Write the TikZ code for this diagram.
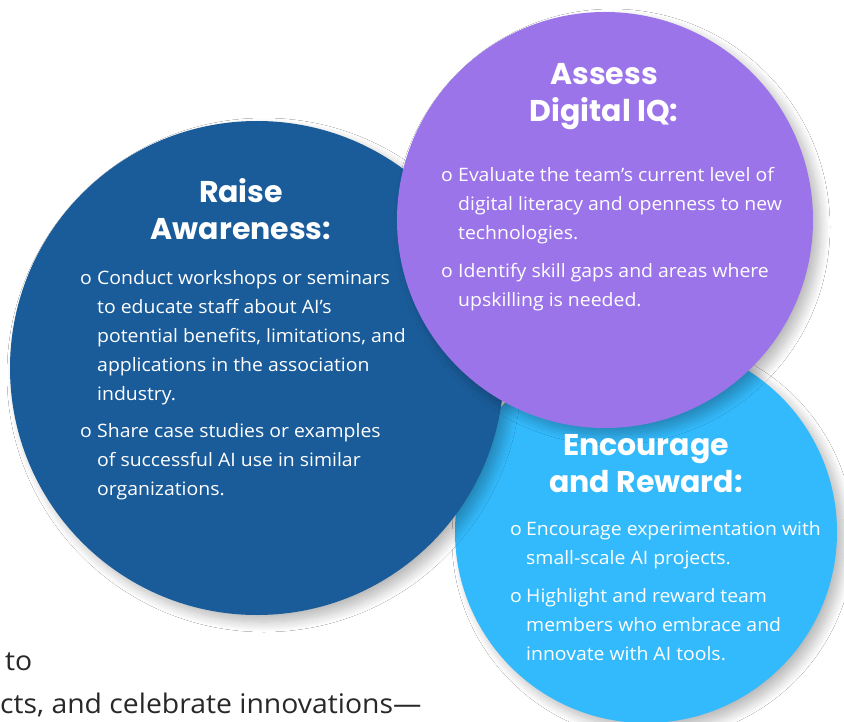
\documentclass[tikz,border=0pt]{standalone}
\usepackage{fontspec}
\setmainfont{Open Sans}
\newfontfamily\headfont{Poppins}
\newfontfamily\bodyfont{Open Sans}[FakeStretch=1.05]
\usetikzlibrary{shadows.blur}
\definecolor{raiseblue}{RGB}{26,92,154}
\definecolor{assesspurple}{RGB}{155,116,234}
\definecolor{rewardblue}{RGB}{51,186,252}
\definecolor{pagegrey}{RGB}{40,40,40}

\begin{document}
\begin{tikzpicture}[x=1pt,y=-1pt]
\tikzset{bigdisc/.style={circle, inner sep=0pt, blur shadow={shadow xshift=7pt, shadow yshift=-7pt, shadow blur radius=10pt, shadow blur steps=14, shadow opacity=28}},
  headtxt/.style={font=\headfont\bfseries\fontsize{30}{37}\selectfont, text=white, align=center, inner sep=0pt},
  bodytxt/.style={font=\bodyfont\fontsize{18.5}{29}\selectfont, text=white, align=left, anchor=north west, inner sep=0pt},
  pagetxt/.style={font=\bodyfont\fontsize{27}{43}\selectfont, text=pagegrey, align=left, anchor=north west, inner sep=0pt}}
\useasboundingbox (0,0) rectangle (844,722);
\fill[white] (0,0) rectangle (844,722);
% the three circles
\node[bigdisc, fill=rewardblue, minimum size=382pt] (reward) at (646,532) {};
\node[bigdisc, fill=raiseblue, minimum size=494pt] (raise) at (257,368) {};
\node[bigdisc, fill=assesspurple, minimum size=416pt] (assess) at (605,220) {};
% headings
\node[headtxt] (raisehead) at (241,209) {Raise\\Awareness:};
\node[headtxt] (assesshead) at (604,97) {Assess\\Digital IQ:};
\node[headtxt] (rewardhead) at (646,464) {Encourage\\and Reward:};
% bullets
\node[bodytxt] (raise1) at (80,270) {\makebox[17pt][l]{o}Conduct workshops or seminars\\\hspace*{17pt}to educate staff about AI’s\\\hspace*{17pt}potential benefits, limitations, and\\\hspace*{17pt}applications in the association\\\hspace*{17pt}industry.};
\node[bodytxt] (raise2) at (80,423) {\makebox[17pt][l]{o}Share case studies or examples\\\hspace*{17pt}of successful AI use in similar\\\hspace*{17pt}organizations.};
\node[bodytxt] (assess1) at (441,167) {\makebox[17pt][l]{o}Evaluate the team’s current level of\\\hspace*{17pt}digital literacy and openness to new\\\hspace*{17pt}technologies.};
\node[bodytxt] (assess2) at (441,263) {\makebox[17pt][l]{o}Identify skill gaps and areas where\\\hspace*{17pt}upskilling is needed.};
\node[bodytxt] (reward1) at (510,521) {\makebox[16pt][l]{o}Encourage experimentation with\\\hspace*{16pt}small-scale AI projects.};
\node[bodytxt] (reward2) at (510,588) {\makebox[16pt][l]{o}Highlight and reward team\\\hspace*{16pt}members who embrace and\\\hspace*{16pt}innovate with AI tools.};
% page text behind the figure
\node[pagetxt] (pageline) at (0,652) {\hspace*{5pt}to\\cts, and celebrate innovations—};
\end{tikzpicture}
\end{document}
